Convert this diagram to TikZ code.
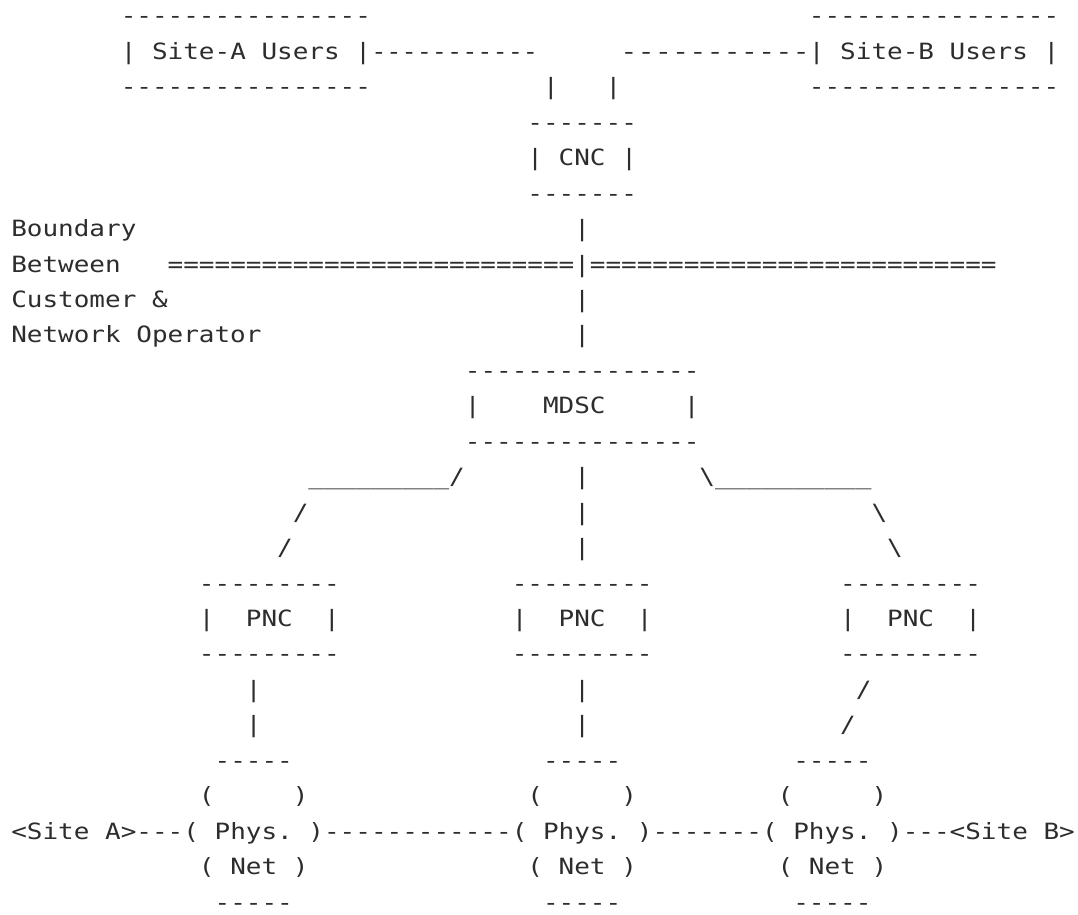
\documentclass[tikz,border=0pt]{standalone}
\usepackage{fontspec}
\setmonofont{DejaVu Sans Mono}
\usepackage{graphicx}
\definecolor{inkc}{RGB}{45,45,45}
\newsavebox\segbox
\newlength\seglen
\tikzset{asciiseg/.style={anchor=base west, inner sep=0pt, outer sep=0pt,
  font=\fontsize{22.4}{26}\selectfont\ttfamily, text=inkc}}
% #1 name, #2 line, #3 first column, #4 last column, #5 number of chars, #6 text
\newcommand\seg[6]{%
  \pgfmathsetmacro\segp{ifthenelse((#5)>1,15.64*((#4)-(#3))/max((#5)-1,1),15.64)}%
  \pgfmathsetmacro\segx{19.12+15.64*(#3)-\segp/2}%
  \pgfmathsetmacro\segy{-11.6+35.45*(#2)}%
  \node[asciiseg] (#1) at (\segx,\segy)
    {\settowidth\seglen{0}\pgfmathsetmacro\segs{\segp/\seglen}\scalebox{\segs}[1]{#6}};%
}
\begin{document}
\begin{tikzpicture}[x=1pt,y=-1pt]
\fill[white] (0,0) rectangle (1078,914);
\useasboundingbox (0,0) rectangle (1078,914);
% line 1-3 : user boxes
\seg{uAt}{1}{7}{22}{16}{----------------}
\seg{uBt}{1}{51}{66}{16}{----------------}
\seg{siteA}{2}{7}{22}{16}{|~Site-A~Users~|}
\seg{linkA}{2}{23}{32.7}{11}{-----------}
\seg{linkB}{2}{39}{50}{11}{-----------}
\seg{siteB}{2}{51}{66}{16}{|~Site-B~Users~|}
\seg{uAb}{3}{7}{22}{16}{----------------}
\seg{dropA}{3}{34}{34}{1}{|}
\seg{dropB}{3}{38}{38}{1}{|}
\seg{uBb}{3}{51}{66}{16}{----------------}
% CNC
\seg{cnct}{4}{33}{39}{7}{-------}
\seg{cnc}{5}{33}{39}{7}{|~CNC~|}
\seg{cncb}{6}{33}{39}{7}{-------}
% boundary
\seg{lab1}{7}{0}{7}{8}{Boundary}
\seg{v7}{7}{36}{36}{1}{|}
\seg{lab2}{8}{0}{6}{7}{Between}
\seg{bnd}{8}{10}{62}{53}{==========================|==========================}
\seg{lab3}{9}{0}{9}{10}{Customer~\&}
\seg{v9}{9}{36}{36}{1}{|}
\seg{lab4}{10}{0}{15}{16}{Network~Operator}
\seg{v10}{10}{36}{36}{1}{|}
% MDSC
\seg{mdsct}{11}{29}{43}{15}{---------------}
\seg{mdsc}{12}{29}{43}{15}{|~~~~MDSC~~~~~|}
\seg{mdscb}{13}{29}{43}{15}{---------------}
% branches
\seg{brA}{14}{19}{28}{10}{\_\_\_\_\_\_\_\_\_/}
\seg{v14}{14}{36}{36}{1}{|}
\seg{brC}{14}{44}{54}{11}{\textbackslash\_\_\_\_\_\_\_\_\_\_}
\seg{s15a}{15}{18}{18}{1}{/}
\seg{v15}{15}{36}{36}{1}{|}
\seg{s15c}{15}{55}{55}{1}{\textbackslash}
\seg{s16a}{16}{17}{17}{1}{/}
\seg{v16}{16}{36}{36}{1}{|}
\seg{s16c}{16}{56}{56}{1}{\textbackslash}
% PNC boxes
\seg{pAt}{17}{12}{20}{9}{---------}
\seg{pBt}{17}{32}{40}{9}{---------}
\seg{pCt}{17}{53}{61}{9}{---------}
\seg{pncA}{18}{12}{20}{9}{|~~PNC~~|}
\seg{pncB}{18}{32}{40}{9}{|~~PNC~~|}
\seg{pncC}{18}{53}{61}{9}{|~~PNC~~|}
\seg{pAb}{19}{12}{20}{9}{---------}
\seg{pBb}{19}{32}{40}{9}{---------}
\seg{pCb}{19}{53}{61}{9}{---------}
% PNC to networks
\seg{v20a}{20}{15}{15}{1}{|}
\seg{v20b}{20}{36}{36}{1}{|}
\seg{s20c}{20}{54}{54}{1}{/}
\seg{v21a}{21}{15}{15}{1}{|}
\seg{v21b}{21}{36}{36}{1}{|}
\seg{s21c}{21}{53}{53}{1}{/}
% physical networks
\seg{nAt}{22}{13}{17}{5}{-----}
\seg{nBt}{22}{34}{38}{5}{-----}
\seg{nCt}{22}{50}{54}{5}{-----}
\seg{nAu}{23}{12}{18}{7}{(~~~~~)}
\seg{nBu}{23}{33}{39}{7}{(~~~~~)}
\seg{nCu}{23}{49}{55}{7}{(~~~~~)}
\seg{siteAin}{24}{0}{7}{8}{<Site~A>}
\seg{c24a}{24}{8}{10}{3}{---}
\seg{phys1}{24}{11}{19}{9}{(~Phys.~)}
\seg{c24b}{24}{20}{31}{12}{------------}
\seg{phys2}{24}{32}{40}{9}{(~Phys.~)}
\seg{c24c}{24}{41}{47}{7}{-------}
\seg{phys3}{24}{48}{56}{9}{(~Phys.~)}
\seg{c24d}{24}{57}{59}{3}{---}
\seg{siteBin}{24}{60}{67}{8}{<Site~B>}
\seg{netA}{25}{12}{18}{7}{(~Net~)}
\seg{netB}{25}{33}{39}{7}{(~Net~)}
\seg{netC}{25}{49}{55}{7}{(~Net~)}
\seg{nAb}{26}{13}{17}{5}{-----}
\seg{nBb}{26}{34}{38}{5}{-----}
\seg{nCb}{26}{50}{54}{5}{-----}
\end{tikzpicture}
\end{document}
